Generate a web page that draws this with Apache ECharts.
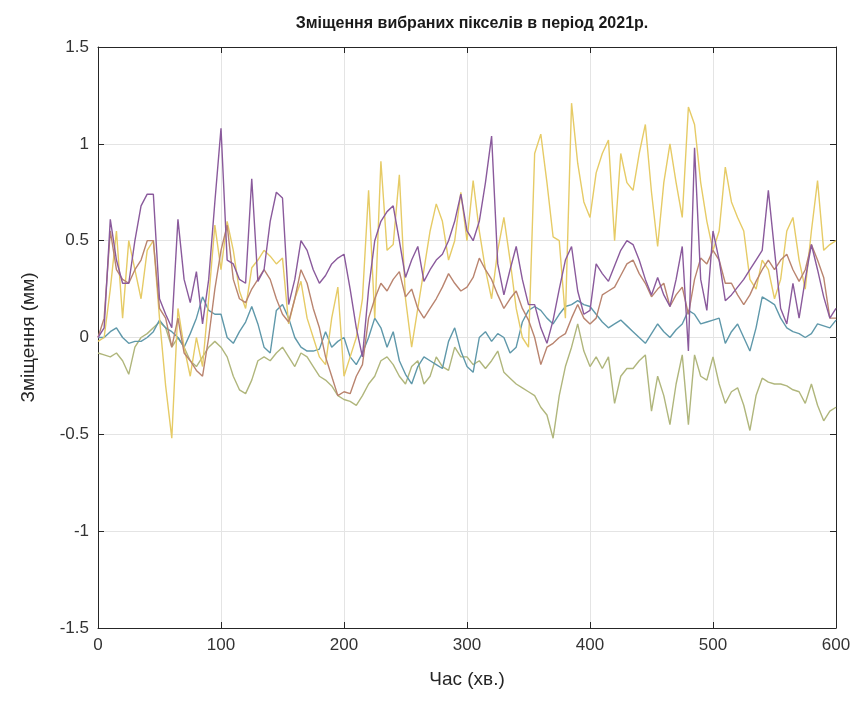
<!DOCTYPE html>
<html><head><meta charset="utf-8">
<script src="https://cdn.jsdelivr.net/npm/echarts@6/dist/echarts.min.js"></script>
<style>html,body{margin:0;padding:0;background:#fff}#c{width:862px;height:706px}</style>
</head><body><div id="c"></div>
<script>
// time axis (minutes), step 5
const times = [];
for (let t = 0; t <= 600; t += 5) times.push(t);

const xTicks = [0, 100, 200, 300, 400, 500, 600];
const yTicks = [-1.5, -1, -0.5, 0, 0.5, 1, 1.5];

const purple = [
0.0,0.05,0.61,0.4,0.28,0.28,0.5,0.68,0.74,0.74,0.2,0.12,0.05,0.61,0.3,0.18,0.34,0.07,0.3,0.7,
1.08,0.4,0.38,0.3,0.28,0.82,0.29,0.35,0.6,0.75,0.72,0.17,0.3,0.5,0.45,0.35,0.28,0.32,0.38,0.41,
0.43,0.25,0.05,-0.1,0.25,0.5,0.6,0.65,0.68,0.5,0.31,0.4,0.47,0.29,0.35,0.4,0.43,0.5,0.6,0.74,
0.55,0.5,0.6,0.8,1.04,0.38,0.22,0.35,0.47,0.3,0.17,0.17,0.05,-0.03,0.09,0.25,0.4,0.47,0.24,0.12,
0.14,0.38,0.33,0.29,0.37,0.45,0.5,0.48,0.4,0.3,0.22,0.31,0.22,0.16,0.3,0.47,-0.07,0.98,0.3,0.14,
0.55,0.4,0.19,0.22,0.26,0.3,0.35,0.4,0.45,0.76,0.45,0.15,0.07,0.28,0.1,0.3,0.48,0.35,0.21,0.1,
0.15];
const yellow = [
-0.02,0.0,0.25,0.55,0.1,0.5,0.35,0.2,0.45,0.5,0.1,-0.25,-0.52,0.15,-0.05,-0.2,0.0,-0.15,0.2,0.58,
0.35,0.6,0.45,0.24,0.15,0.36,0.4,0.45,0.42,0.38,0.41,0.07,0.2,0.29,0.1,0.0,-0.1,-0.14,0.1,0.26,
-0.2,-0.1,0.0,0.2,0.76,0.1,0.91,0.45,0.48,0.84,0.2,-0.05,0.15,0.35,0.55,0.69,0.6,0.4,0.5,0.75,
0.5,0.81,0.55,0.35,0.2,0.45,0.62,0.4,0.15,0.0,-0.05,0.95,1.05,0.8,0.52,0.5,0.1,1.21,0.9,0.7,
0.62,0.85,0.95,1.02,0.5,0.95,0.8,0.76,0.95,1.1,0.75,0.47,0.8,1.0,0.8,0.62,1.19,1.1,0.8,0.6,
0.45,0.55,0.88,0.7,0.62,0.55,0.3,0.25,0.4,0.35,0.2,0.3,0.55,0.62,0.4,0.25,0.55,0.81,0.45,0.48,
0.5];
const brown = [
0.0,0.1,0.55,0.35,0.3,0.28,0.35,0.4,0.5,0.5,0.15,0.1,-0.05,0.1,-0.08,-0.12,-0.17,-0.2,0.0,0.25,
0.45,0.58,0.3,0.2,0.18,0.25,0.3,0.35,0.3,0.2,0.12,0.08,0.2,0.35,0.28,0.15,0.05,-0.1,-0.2,-0.3,
-0.28,-0.29,-0.2,-0.14,0.1,0.2,0.28,0.24,0.3,0.34,0.21,0.25,0.15,0.1,0.15,0.2,0.26,0.33,0.28,0.24,
0.26,0.31,0.41,0.35,0.3,0.22,0.15,0.2,0.24,0.15,0.09,0.0,-0.14,-0.05,-0.03,0.0,0.02,0.1,0.17,0.1,
0.07,0.1,0.22,0.24,0.26,0.32,0.38,0.4,0.33,0.28,0.21,0.25,0.28,0.16,0.22,0.26,0.12,0.3,0.41,0.38,
0.45,0.4,0.28,0.28,0.22,0.17,0.22,0.29,0.35,0.4,0.35,0.4,0.43,0.35,0.29,0.35,0.48,0.4,0.31,0.1,
0.1];
const teal = [
0.0,0.0,0.03,0.05,0.0,-0.03,-0.02,-0.02,0.0,0.03,0.09,0.05,0.03,0.0,-0.05,0.02,0.1,0.21,0.14,0.12,
0.12,0.0,-0.03,0.03,0.08,0.16,0.07,-0.05,-0.08,0.14,0.17,0.1,0.0,-0.05,-0.07,-0.07,-0.06,0.03,-0.05,-0.02,
0.0,-0.1,-0.14,-0.08,0.0,0.1,0.05,-0.05,0.03,-0.12,-0.19,-0.24,-0.15,-0.1,-0.12,-0.14,-0.16,-0.02,0.05,-0.07,
-0.15,-0.18,0.0,0.03,-0.02,0.02,0.0,-0.08,-0.05,0.08,0.14,0.16,0.14,0.1,0.07,0.12,0.16,0.17,0.19,0.17,
0.16,0.12,0.08,0.05,0.07,0.09,0.06,0.03,0.0,-0.03,0.02,0.07,0.03,0.0,0.04,0.07,0.14,0.12,0.07,0.08,
0.09,0.1,-0.03,0.03,0.07,0.0,-0.07,0.05,0.21,0.19,0.17,0.1,0.05,0.03,0.02,0.0,0.02,0.07,0.06,0.05,
0.09];
const olive = [
-0.08,-0.09,-0.1,-0.08,-0.12,-0.19,-0.05,0.0,0.02,0.05,0.08,0.05,-0.05,0.0,-0.05,-0.12,-0.15,-0.1,-0.05,-0.02,
-0.05,-0.1,-0.2,-0.27,-0.29,-0.22,-0.12,-0.1,-0.12,-0.08,-0.05,-0.1,-0.15,-0.08,-0.1,-0.15,-0.2,-0.22,-0.25,-0.3,
-0.32,-0.33,-0.35,-0.3,-0.24,-0.2,-0.12,-0.1,-0.14,-0.2,-0.24,-0.15,-0.12,-0.24,-0.2,-0.1,-0.15,-0.17,-0.05,-0.1,
-0.1,-0.14,-0.12,-0.16,-0.12,-0.07,-0.18,-0.21,-0.24,-0.26,-0.28,-0.3,-0.36,-0.4,-0.52,-0.3,-0.15,-0.05,0.07,-0.07,
-0.15,-0.1,-0.16,-0.1,-0.34,-0.2,-0.16,-0.16,-0.12,-0.09,-0.38,-0.2,-0.3,-0.45,-0.24,-0.09,-0.45,-0.09,-0.2,-0.22,
-0.1,-0.24,-0.34,-0.28,-0.26,-0.35,-0.48,-0.3,-0.21,-0.23,-0.24,-0.24,-0.25,-0.27,-0.28,-0.34,-0.24,-0.35,-0.43,-0.38,
-0.36];

const seriesDefs = [
  {name: 'olive', data: olive, color: '#b0b67c'},
  {name: 'teal', data: teal, color: '#5f98aa'},
  {name: 'yellow', data: yellow, color: '#e6cb66'},
  {name: 'brown', data: brown, color: '#b9846f'},
  {name: 'purple', data: purple, color: '#8a5a9c'}
];

const chart = echarts.init(document.getElementById('c'), null, {renderer: 'canvas'});
const font = 'Liberation Sans, Arial, sans-serif';
const gridLine = {show: true, lineStyle: {color: '#e4e4e4', width: 1}};
const axLine = {show: true, onZero: false, lineStyle: {color: '#262626', width: 1}};
const tick = {show: true, inside: true, length: 6, lineStyle: {color: '#262626'}};

chart.setOption({
  animation: false,
  backgroundColor: '#fff',
  title: {
    text: 'Зміщення вибраних пікселів в період 2021р.',
    left: 467, top: 11, textAlign: 'center',
    textStyle: {fontFamily: font, fontSize: 16, fontWeight: 'bold', color: '#1a1a1a'}
  },
  grid: {left: 98, right: 26, top: 47, bottom: 78, containLabel: false},
  xAxis: [{
    type: 'value', min: xTicks[0], max: xTicks[xTicks.length - 1], interval: 100,
    name: 'Час (хв.)', nameLocation: 'middle', nameGap: 42,
    nameTextStyle: {fontFamily: font, fontSize: 19, color: '#262626'},
    axisLine: axLine, axisTick: tick, splitLine: gridLine,
    axisLabel: {fontFamily: font, fontSize: 17, color: '#333', margin: 9}
  }, {
    type: 'value', position: 'top', min: 0, max: 600, interval: 100,
    axisLine: axLine, axisTick: tick, splitLine: {show: false}, axisLabel: {show: false}
  }],
  yAxis: [{
    type: 'value', min: yTicks[0], max: yTicks[yTicks.length - 1], interval: 0.5,
    name: 'Зміщення (мм)', nameLocation: 'middle', nameGap: 60, nameRotate: 90,
    nameTextStyle: {fontFamily: font, fontSize: 19, color: '#262626'},
    axisLine: axLine, axisTick: tick, splitLine: gridLine,
    axisLabel: {fontFamily: font, fontSize: 17, color: '#333', margin: 9}
  }, {
    type: 'value', position: 'right', min: -1.5, max: 1.5, interval: 0.5,
    axisLine: axLine, axisTick: tick, splitLine: {show: false}, axisLabel: {show: false}
  }],
  series: seriesDefs.map(s => ({
    type: 'line', name: s.name, showSymbol: false, symbol: 'none',
    xAxisIndex: 0, yAxisIndex: 0,
    data: times.map((t, i) => [t, s.data[i]]),
    lineStyle: {color: s.color, width: 1.4},
    itemStyle: {color: s.color}
  }))
});
</script>
</body></html>
